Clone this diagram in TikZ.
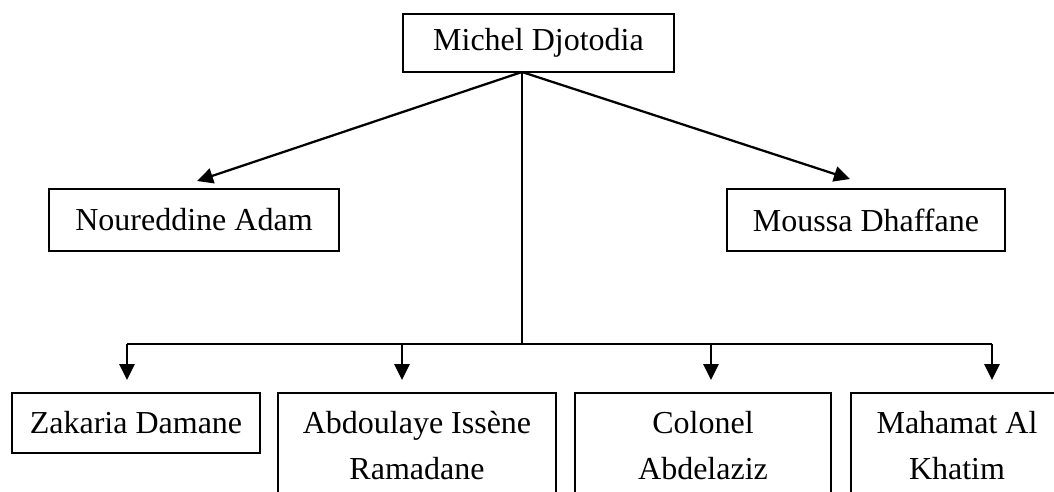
\documentclass[tikz,border=0pt]{standalone}
\usepackage{fontspec}
\setmainfont{Liberation Serif}
\usetikzlibrary{arrows.meta}
\tikzset{
  box/.style={draw=black, line width=1pt, inner sep=0pt, align=center, fill=none,
    font=\fontsize{24}{34.5}\selectfont},
  conn/.style={line width=1.7pt, draw=black},
  arr/.style={conn, -{Triangle[width=11.5pt,length=12pt]}}
}
\begin{document}
\begin{tikzpicture}[x=0.75pt,y=-0.75pt]
\useasboundingbox (0,0) rectangle (1054,492);
\fill[white] (0,0) rectangle (1054,492);
\clip (0,0) rectangle (1054,492);
\node[box, minimum width=203.25pt, minimum height=43.5pt] (mi) at (538.5,43) {Michel Djotodia};
\node[box, minimum width=217.5pt, minimum height=46.5pt] (no) at (194,220) {Noureddine Adam};
\node[box, minimum width=208.5pt, minimum height=46.5pt] (mo) at (866,220) {Moussa Dhaffane};
\node[box, minimum width=186pt, minimum height=45pt] (za) at (136,423) {Zakaria Damane};
\node[box, minimum width=208.5pt, minimum height=79.5pt] (ab) at (417,446) {Abdoulaye Issène\\Ramadane};
\node[box, minimum width=192pt, minimum height=79.5pt] (co) at (703,446) {Colonel\\Abdelaziz};
\node[box, minimum width=159pt, minimum height=79.5pt] (ma) at (957,446) {Mahamat Al\\Khatim};
\coordinate (mb) at (522,72);
\coordinate (hub) at (522,344);
\coordinate (tno) at (197,181);
\coordinate (tmo) at (850,179);
\coordinate (h1) at (127,344);
\coordinate (h2) at (402,344);
\coordinate (h3) at (711,344);
\coordinate (h4) at (992,344);
\coordinate (t1) at (127,380);
\coordinate (t2) at (402,380);
\coordinate (t3) at (711,380);
\coordinate (t4) at (992,380);
\draw[arr] (mb) -- (tno);
\draw[arr] (mb) -- (tmo);
\draw[conn] (mb) -- (hub);
\draw[conn] (h1) -- (h4);
\draw[arr] (h1) -- (t1);
\draw[arr] (h2) -- (t2);
\draw[arr] (h3) -- (t3);
\draw[arr] (h4) -- (t4);
\end{tikzpicture}
\end{document}
